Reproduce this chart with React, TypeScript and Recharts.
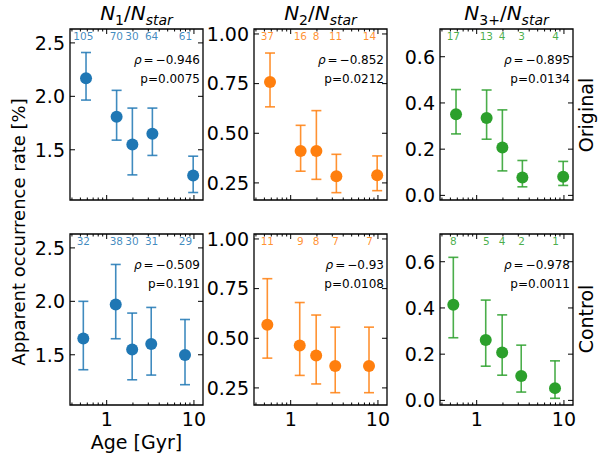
import React from "react";
import { ScatterChart, Scatter, XAxis, YAxis, ErrorBar, ReferenceArea } from "recharts";

// bin centres in Gyr
const ageOriginal = [0.58, 1.3, 1.97, 3.34, 9.8];
const ageControl = [0.54, 1.27, 1.96, 3.24, 7.9];
const ageCount = [0.54, 1.29, 1.95, 3.27, 8.0];

// N1/Nstar [%]
const n1Orig = [2.17, 1.81, 1.55, 1.65, 1.26];
const n1OrigLo = [1.965, 1.59, 1.265, 1.447, 1.1];
const n1OrigHi = [2.41, 2.056, 1.89, 1.89, 1.44];
const n1Ctrl = [1.653, 1.97, 1.55, 1.6, 1.497];
const n1CtrlLo = [1.36, 1.65, 1.266, 1.31, 1.22];
const n1CtrlHi = [2.0, 2.345, 1.89, 1.943, 1.83];

// N2/Nstar [%]
const n2Orig = [0.758, 0.411, 0.411, 0.284, 0.289];
const n2OrigLo = [0.633, 0.309, 0.268, 0.201, 0.211];
const n2OrigHi = [0.904, 0.54, 0.614, 0.394, 0.386];
const n2Ctrl = [0.568, 0.464, 0.413, 0.36, 0.36];
const n2CtrlLo = [0.4, 0.313, 0.27, 0.226, 0.226];
const n2CtrlHi = [0.8, 0.68, 0.617, 0.556, 0.556];

// N3+/Nstar [%]
const n3Orig = [0.351, 0.335, 0.207, 0.077, 0.081];
const n3OrigLo = [0.266, 0.243, 0.106, 0.037, 0.043];
const n3OrigHi = [0.458, 0.456, 0.37, 0.151, 0.147];
const n3Ctrl = [0.414, 0.261, 0.207, 0.105, 0.053];
const n3CtrlLo = [0.271, 0.148, 0.109, 0.036, 0.009];
const n3CtrlHi = [0.619, 0.434, 0.37, 0.239, 0.171];

// systems per bin
const n1OrigCount = [105, 70, 30, 64, 61];
const n1CtrlCount = [32, 38, 30, 31, 29];
const n2OrigCount = [37, 16, 8, 11, 14];
const n2CtrlCount = [11, 9, 8, 7, 7];
const n3OrigCount = [17, 13, 4, 3, 4];
const n3CtrlCount = [8, 5, 4, 2, 1];

// Spearman results
const rhoOrig = ["−0.946", "−0.852", "−0.895"];
const pOrig = ["0.0075", "0.0212", "0.0134"];
const rhoCtrl = ["−0.509", "−0.93", "−0.978"];
const pCtrl = ["0.191", "0.0108", "0.0011"];

const ageTicks = [0.4, 0.5, 0.6, 0.7, 0.8, 0.9, 1, 2, 3, 4, 5, 6, 7, 8, 9, 10];
const ageMajor = [1, 10];
const AGE_DOMAIN = [0.38, 12.7];

const n1Ticks = [1.5, 2.0, 2.5];
const n2Ticks = [0.25, 0.5, 0.75, 1.0];
const n3Ticks = [0.0, 0.2, 0.4, 0.6];

const BLUE = "#1f77b4";
const ORANGE = "#ff7f0e";
const GREEN = "#2ca02c";
const FONT = "'DejaVu Sans', sans-serif";

const PLOT_W = 133;
const PLOT_H = 171;
const Y_AXIS_W = 56;
const TOP_PAD = 12;
const COL_LEFT = [70, 254, 440];
const ROW_TOP = [29, 234];

type PanelProps = {
  left: number;
  top: number;
  color: string;
  ages: number[];
  values: number[];
  lows: number[];
  highs: number[];
  counts: number[];
  yDomain: number[];
  yTicks: number[];
  digits: number;
  rho: string;
  p: string;
  showXLabels: boolean;
};

function Panel(props: PanelProps) {
  const { left, top, color, ages, values, lows, highs, counts, yDomain, yTicks, digits, rho, p, showXLabels } = props;
  const xAxisH = showXLabels ? 30 : 12;
  const width = Y_AXIS_W + PLOT_W + 4;
  const height = TOP_PAD + PLOT_H + xAxisH;
  const plotTop = TOP_PAD;
  const plotBottom = TOP_PAD + PLOT_H;
  const plotLeft = Y_AXIS_W;
  const plotRight = Y_AXIS_W + PLOT_W;

  const points = values.map((v, i) => ({
    age: ages[i],
    rate: v,
    err: [v - lows[i], highs[i] - v],
  }));
  const labels = counts.map((n, i) => ({ age: ageCount[i], rate: yDomain[1], n }));

  const xTick = (t: any) => {
    const x = t.x;
    const major = ageMajor.includes(t.payload.value);
    const len = major ? 5 : 2.5;
    return (
      <g>
        <line x1={x} x2={x} y1={plotBottom} y2={plotBottom - len} stroke="#000" strokeWidth={1} />
        <line x1={x} x2={x} y1={plotTop} y2={plotTop + len} stroke="#000" strokeWidth={1} />
        {major && showXLabels ? (
          <text x={x} y={t.y} dy="0.71em" textAnchor="middle" fontSize={19} fontFamily={FONT} fill="#000">
            {t.payload.value}
          </text>
        ) : null}
      </g>
    );
  };

  const yTick = (t: any) => {
    const y = t.y;
    return (
      <g>
        <line x1={plotLeft} x2={plotLeft + 5} y1={y} y2={y} stroke="#000" strokeWidth={1} />
        <line x1={plotRight} x2={plotRight - 5} y1={y} y2={y} stroke="#000" strokeWidth={1} />
        <text x={t.x} y={y} dy="0.36em" textAnchor="end" fontSize={19} fontFamily={FONT} fill="#000">
          {Number(t.payload.value).toFixed(digits)}
        </text>
      </g>
    );
  };

  return (
    <div style={{ position: "absolute", left: left - Y_AXIS_W, top: top - TOP_PAD }}>
      <ScatterChart width={width} height={height} margin={{ top: TOP_PAD, right: 4, left: 0, bottom: 0 }}>
        <XAxis
          type="number"
          dataKey="age"
          scale="log"
          domain={AGE_DOMAIN}
          allowDataOverflow
          ticks={ageTicks}
          interval={0}
          tickSize={0}
          tickMargin={8}
          axisLine={false}
          tickLine={false}
          tick={xTick}
          height={xAxisH}
        />
        <YAxis
          type="number"
          dataKey="rate"
          domain={yDomain}
          allowDataOverflow
          ticks={yTicks}
          interval={0}
          tickSize={0}
          tickMargin={5}
          axisLine={false}
          tickLine={false}
          tick={yTick}
          width={Y_AXIS_W}
        />
        <ReferenceArea
          x1={AGE_DOMAIN[0]}
          x2={AGE_DOMAIN[1]}
          y1={yDomain[0]}
          y2={yDomain[1]}
          fill="none"
          stroke="#000"
          strokeWidth={1.3}
          ifOverflow="visible"
        />
        <Scatter
          data={points}
          isAnimationActive={false}
          shape={(s: any) => <circle cx={s.cx} cy={s.cy} r={6} fill={color} />}
        >
          <ErrorBar dataKey="err" direction="y" width={5} stroke={color} strokeOpacity={0.85} strokeWidth={1.6} />
        </Scatter>
        <Scatter
          data={labels}
          isAnimationActive={false}
          shape={(s: any) => (
            <text x={s.cx} y={s.cy + 11} textAnchor="middle" fontSize={10.5} fontFamily={FONT} fill={color} fillOpacity={0.85}>
              {s.payload.n}
            </text>
          )}
        />
      </ScatterChart>
      <svg
        width={width}
        height={height}
        style={{ position: "absolute", left: 0, top: 0, pointerEvents: "none" }}
      >
        <text x={plotRight - 3} y={plotTop + 35} textAnchor="end" fontSize={12} fontFamily={FONT} fill="#000">
          <tspan fontStyle="italic">ρ</tspan>
          <tspan dx={2}>=</tspan>
          <tspan dx={2}>{rho}</tspan>
        </text>
        <text x={plotRight - 3} y={plotTop + 54} textAnchor="end" fontSize={12} fontFamily={FONT} fill="#000">
          p=0{p.slice(1)}
        </text>
      </svg>
    </div>
  );
}

function Title({ cx, sub, subItalic }: { cx: number; sub: string; subItalic: boolean }) {
  return (
    <text x={cx} y={20} textAnchor="middle" fontSize={20} fontFamily={FONT} fill="#000">
      <tspan fontStyle="italic">N</tspan>
      <tspan fontSize={14} dy={5} fontStyle={subItalic ? "italic" : "normal"}>{sub}</tspan>
      <tspan dy={-5}>/</tspan>
      <tspan fontStyle="italic">N</tspan>
      <tspan fontSize={14} dy={5} fontStyle="italic">star</tspan>
    </text>
  );
}

export default function App() {
  const rows = [
    {
      top: ROW_TOP[0],
      ages: ageOriginal,
      sets: [
        { values: n1Orig, lows: n1OrigLo, highs: n1OrigHi, counts: n1OrigCount },
        { values: n2Orig, lows: n2OrigLo, highs: n2OrigHi, counts: n2OrigCount },
        { values: n3Orig, lows: n3OrigLo, highs: n3OrigHi, counts: n3OrigCount },
      ],
      rho: rhoOrig,
      p: pOrig,
      showXLabels: false,
    },
    {
      top: ROW_TOP[1],
      ages: ageControl,
      sets: [
        { values: n1Ctrl, lows: n1CtrlLo, highs: n1CtrlHi, counts: n1CtrlCount },
        { values: n2Ctrl, lows: n2CtrlLo, highs: n2CtrlHi, counts: n2CtrlCount },
        { values: n3Ctrl, lows: n3CtrlLo, highs: n3CtrlHi, counts: n3CtrlCount },
      ],
      rho: rhoCtrl,
      p: pCtrl,
      showXLabels: true,
    },
  ];
  const cols = [
    { color: BLUE, yDomain: [1.03, 2.63], yTicks: n1Ticks, digits: 1 },
    { color: ORANGE, yDomain: [0.164, 1.025], yTicks: n2Ticks, digits: 2 },
    { color: GREEN, yDomain: [-0.02, 0.72], yTicks: n3Ticks, digits: 1 },
  ];

  return (
    <div
      style={{
        position: "absolute",
        left: 0,
        top: 0,
        width: 599,
        height: 457,
        background: "#fff",
        fontFamily: FONT,
        overflow: "hidden",
      }}
    >
      {rows.map((row, r) =>
        cols.map((col, c) => (
          <Panel
            key={`${r}-${c}`}
            left={COL_LEFT[c]}
            top={row.top}
            color={col.color}
            ages={row.ages}
            values={row.sets[c].values}
            lows={row.sets[c].lows}
            highs={row.sets[c].highs}
            counts={row.sets[c].counts}
            yDomain={col.yDomain}
            yTicks={col.yTicks}
            digits={col.digits}
            rho={row.rho[c]}
            p={row.p[c]}
            showXLabels={row.showXLabels}
          />
        ))
      )}
      <svg width={599} height={457} style={{ position: "absolute", left: 0, top: 0, pointerEvents: "none" }}>
        <Title cx={COL_LEFT[0] + PLOT_W / 2} sub="1" subItalic={false} />
        <Title cx={COL_LEFT[1] + PLOT_W / 2} sub="2" subItalic={false} />
        <Title cx={COL_LEFT[2] + PLOT_W / 2} sub="3+" subItalic={false} />
        <text
          transform="translate(25,232) rotate(-90)"
          textAnchor="middle"
          fontSize={18}
          fontFamily={FONT}
          fill="#000"
        >
          Apparent occurrence rate [%]
        </text>
        <text x={COL_LEFT[0] + PLOT_W / 2} y={449} textAnchor="middle" fontSize={19} fontFamily={FONT} fill="#000">
          Age [Gyr]
        </text>
        <text transform="translate(593,115) rotate(-90)" textAnchor="middle" fontSize={19} fontFamily={FONT} fill="#000">
          Original
        </text>
        <text transform="translate(593,319) rotate(-90)" textAnchor="middle" fontSize={19} fontFamily={FONT} fill="#000">
          Control
        </text>
      </svg>
    </div>
  );
}
